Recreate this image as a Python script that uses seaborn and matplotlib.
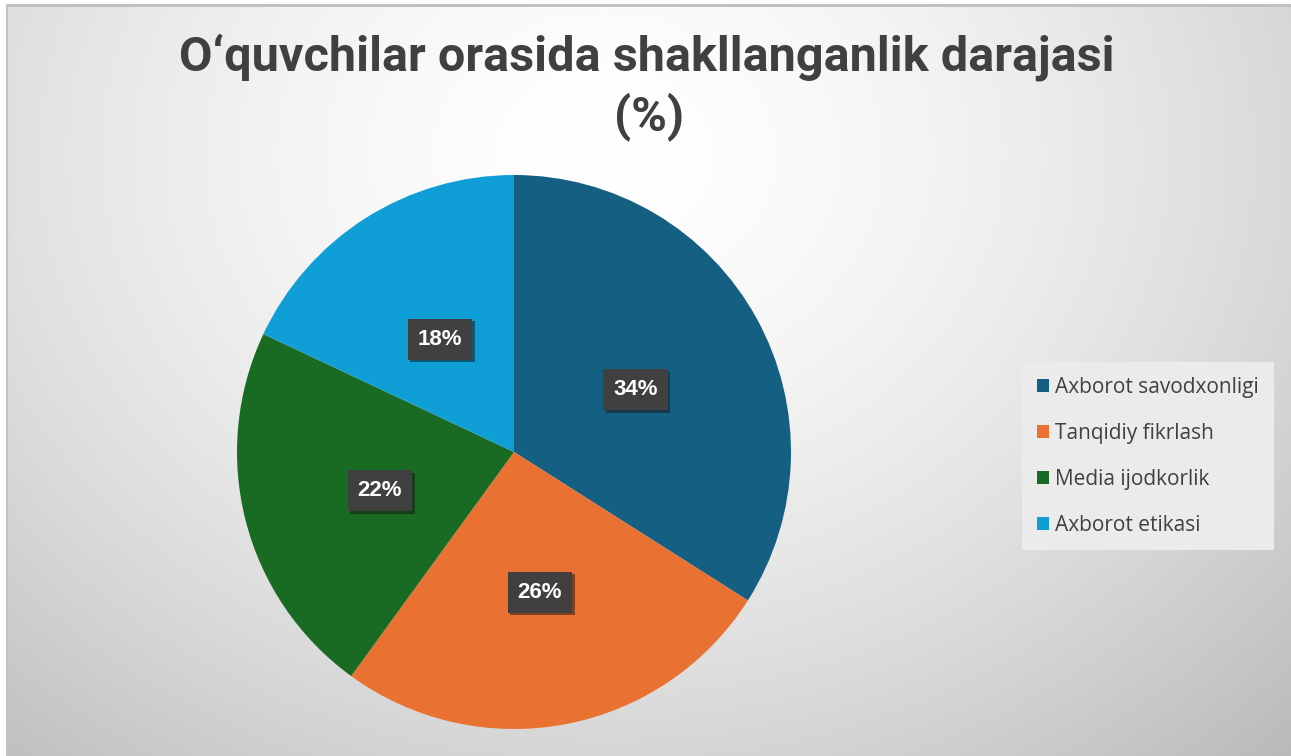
import numpy as np
import matplotlib
matplotlib.use("Agg")
import matplotlib.pyplot as plt
import matplotlib.patheffects as pe
import seaborn as sns

# ma'lumotlar
categories = ["Axborot savodxonligi", "Tanqidiy fikrlash", "Media ijodkorlik", "Axborot etikasi"]
values = [34, 26, 22, 18]
colors = ["#156082", "#E97132", "#196B24", "#0F9ED5"]

sns.set_theme(style="white")
plt.rcParams['font.family'] = ['Open Sans', 'DejaVu Sans']

fig = plt.figure(figsize=(12.91, 7.56), dpi=100)
fig.patch.set_facecolor('white')

# fon: radial gradient
bg = fig.add_axes([0, 0, 1, 1])
W, H = 1291, 756
yy, xx = np.mgrid[0:H, 0:W]
cx, cy = 600, 150
d = np.sqrt(((xx - cx) / 900.0) ** 2 + ((yy - cy) / 750.0) ** 2)
shade = 1.0 - 0.23 * np.clip(d, 0, 1.2) ** 1.6
img = np.dstack([shade, shade, shade])
bg.imshow(img, extent=[7, W, H, 5], aspect='auto', interpolation='bilinear')
bg.plot([7, W], [5, 5], color="#bdbdbd", lw=2)
bg.plot([7, 7], [5, H], color="#c4c4c4", lw=1.5)
bg.set_xlim(0, W)
bg.set_ylim(H, 0)
bg.axis('off')

# pirog diagramma
ax = fig.add_axes([(514 - 277) / W, 1 - (452 + 277) / H, 554 / W, 554 / H])
wedges, texts = ax.pie(values, colors=colors, startangle=90, counterclock=False,
                       wedgeprops=dict(linewidth=0),
                       labels=[f"{v}%" for v in values], labeldistance=0.5)
for t in texts:
    t.set_ha('center')
    t.set_va('center')
    t.set_color('white')
    t.set_fontweight('bold')
    t.set_fontsize(16)
    t.set_family(['Liberation Sans', 'DejaVu Sans'])
    t.set_bbox(dict(boxstyle='square,pad=0.45', fc='#404040', ec='none',
                    path_effects=[pe.withSimplePatchShadow(offset=(2, -2), alpha=0.5)]))
    x, y = t.get_position()
    t.set_position((x, y - 0.015))
ax.set_aspect('equal')
ax.set_xlim(-1, 1)
ax.set_ylim(-1, 1)

# sarlavha
fig.text(647 / W, 1 - 57 / H, "O‘quvchilar orasida shakllanganlik darajasi",
         ha='center', va='center', fontsize=35, fontweight='bold', color='#404040',
         family=['Roboto', 'DejaVu Sans'])
fig.text(649 / W, 1 - 117 / H, "(%)", ha='center', va='center', fontsize=35,
         fontweight='bold', color='#404040', family=['Roboto', 'DejaVu Sans'])

# legenda
leg = fig.legend(wedges, categories, loc='upper left',
                 bbox_to_anchor=(1022 / W, 1 - 362 / H), frameon=True,
                 fontsize=15, handlelength=0.6, handleheight=0.6, handletextpad=0.3,
                 labelspacing=1.2, borderpad=0.7, borderaxespad=0, fancybox=False,
                 labelcolor='#404040')
leg.get_frame().set_facecolor('#ebebeb')
leg.get_frame().set_edgecolor('none')
leg.get_frame().set_alpha(1)

fig.savefig("out.png", dpi=100)
